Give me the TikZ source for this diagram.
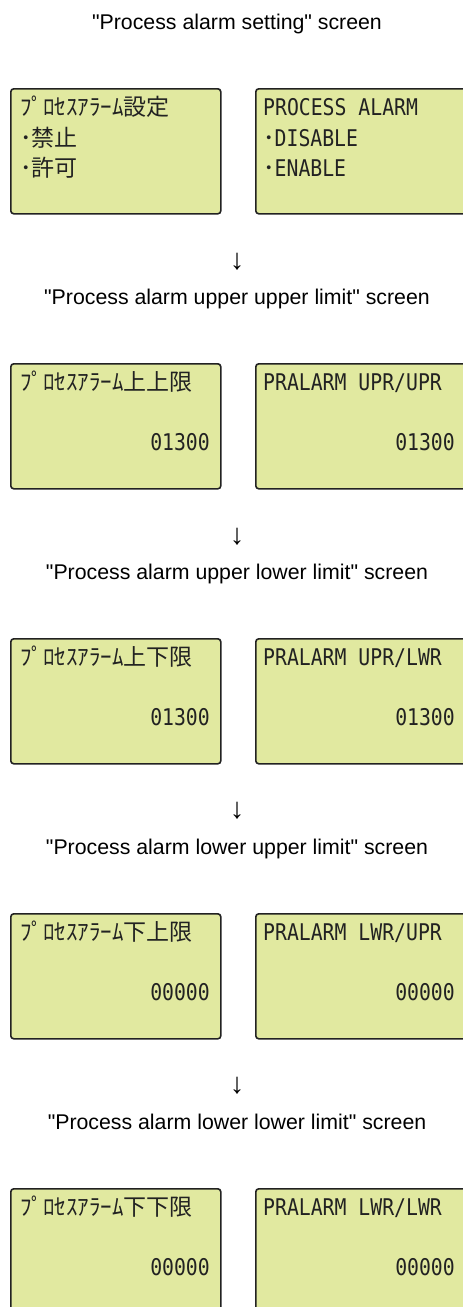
\documentclass[tikz,border=0pt]{standalone}
\usepackage{fontspec}
\setmainfont{Liberation Sans}
\newfontfamily\lcdfont[FakeStretch=0.86]{DejaVu Sans Mono}
\newfontfamily\jpfont{Noto Sans CJK JP}
\definecolor{lcdgreen}{RGB}{225,233,160}
\definecolor{lcdink}{RGB}{34,34,34}
\tikzset{
  lcd/.style={draw=lcdink, line width=1.6pt, rounded corners=3pt, fill=lcdgreen,
    anchor=north west, inner sep=0pt, minimum width=210pt, minimum height=125pt},
  heading/.style={font=\fontsize{21.3}{25}\selectfont, anchor=base},
  downmark/.style={font=\fontsize{29}{32}\selectfont},
  jptext/.style={font=\jpfont\fontsize{23}{27}\selectfont, text=lcdink, anchor=base west, inner sep=0pt},
  entext/.style={font=\lcdfont\fontsize{23}{27}\selectfont, text=lcdink, anchor=base west, inner sep=0pt},
  value/.style={font=\lcdfont\fontsize{23}{27}\selectfont, text=lcdink, anchor=base east, inner sep=0pt}
}
\newcommand{\qq}{\textquotedbl}
\begin{document}
\begin{tikzpicture}[x=1pt, y=-1pt]
  \useasboundingbox (0,0) rectangle (463,1307);
  \clip (0,0) rectangle (463,1307);

  % Process alarm setting
  \node[heading] (headset) at (237,29) {\qq Process alarm setting\qq{} screen};
  \node[lcd] (jpset) at (10,88) {};
  \node[lcd, minimum width=220pt] (enset) at (255,88) {};
  \node[jptext] (jpsettitle) at (20,115.5) {ﾌﾟﾛｾｽｱﾗｰﾑ設定};
  \node[jptext] (jpsetoff) at (20,146.5) {･禁止};
  \node[jptext] (jpseton) at (20,176.5) {･許可};
  \node[entext] (ensettitle) at (263,115.5) {PROCESS ALARM};
  \node[entext] (ensetoff) at (263,146.5) {{\jpfont ･}DISABLE};
  \node[entext] (ensetton) at (263,176.5) {{\jpfont ･}ENABLE};

  % Upper upper limit
  \node[downmark] (down1) at (237,262) {↓};
  \node[heading] (headuu) at (237,304) {\qq Process alarm upper upper limit\qq{} screen};
  \node[lcd] (jpuu) at (10,363) {};
  \node[lcd, minimum width=220pt] (enuu) at (255,363) {};
  \node[jptext] (jpuutitle) at (20,390.5) {ﾌﾟﾛｾｽｱﾗｰﾑ上上限};
  \node[entext] (enuutitle) at (263,390.5) {PRALARM UPR/UPR};
  \node[value] (jpuuval) at (210,450.5) {01300};
  \node[value] (enuuval) at (455,450.5) {01300};

  % Upper lower limit
  \node[downmark] (down2) at (237,537) {↓};
  \node[heading] (headul) at (237,579) {\qq Process alarm upper lower limit\qq{} screen};
  \node[lcd] (jpul) at (10,638) {};
  \node[lcd, minimum width=220pt] (enul) at (255,638) {};
  \node[jptext] (jpultitle) at (20,665.5) {ﾌﾟﾛｾｽｱﾗｰﾑ上下限};
  \node[entext] (enultitle) at (263,665.5) {PRALARM UPR/LWR};
  \node[value] (jpulval) at (210,725.5) {01300};
  \node[value] (enulval) at (455,725.5) {01300};

  % Lower upper limit
  \node[downmark] (down3) at (237,811) {↓};
  \node[heading] (headlu) at (237,854) {\qq Process alarm lower upper limit\qq{} screen};
  \node[lcd] (jplu) at (10,913) {};
  \node[lcd, minimum width=220pt] (enlu) at (255,913) {};
  \node[jptext] (jplutitle) at (20,940.5) {ﾌﾟﾛｾｽｱﾗｰﾑ下上限};
  \node[entext] (enlutitle) at (263,940.5) {PRALARM LWR/UPR};
  \node[value] (jpluval) at (210,1000.5) {00000};
  \node[value] (enluval) at (455,1000.5) {00000};

  % Lower lower limit
  \node[downmark] (down4) at (237,1086) {↓};
  \node[heading] (headll) at (237,1129) {\qq Process alarm lower lower limit\qq{} screen};
  \node[lcd, minimum height=130pt] (jpll) at (10,1188) {};
  \node[lcd, minimum width=220pt, minimum height=130pt] (enll) at (255,1188) {};
  \node[jptext] (jplltitle) at (20,1215.5) {ﾌﾟﾛｾｽｱﾗｰﾑ下下限};
  \node[entext] (enlltitle) at (263,1215.5) {PRALARM LWR/LWR};
  \node[value] (jpllval) at (210,1275.5) {00000};
  \node[value] (enllval) at (455,1275.5) {00000};
\end{tikzpicture}
\end{document}
